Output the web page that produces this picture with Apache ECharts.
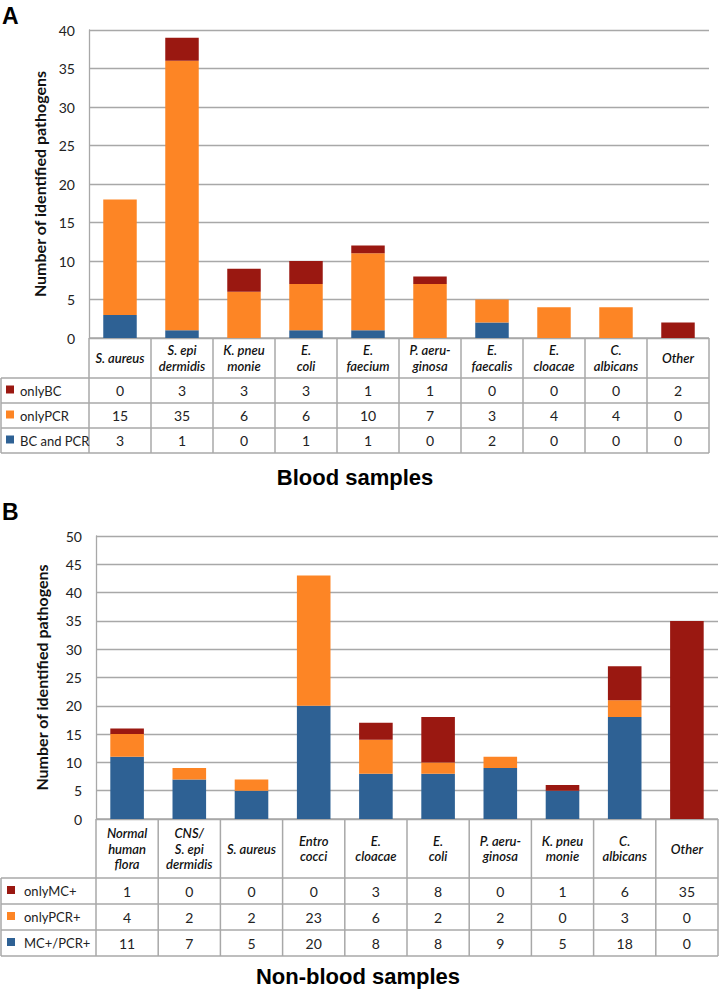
<!DOCTYPE html>
<html>
<head>
<meta charset="utf-8">
<script src="https://cdn.jsdelivr.net/npm/echarts@6/dist/echarts.min.js"></script>
<style>
html,body{margin:0;padding:0;background:#fff;}
#chart{width:720px;height:989px;}
</style>
</head>
<body>
<div id="chart"></div>
<script>
// ---------- Panel A data (Blood samples) ----------
const categoriesA = ["S. aureus", "S. epi\ndermidis", "K. pneu\nmonie", "E.\ncoli", "E.\nfaecium", "P. aeru-\nginosa", "E.\nfaecalis", "E.\ncloacae", "C.\nalbicans", "Other"];
const onlyBC   = [0, 3, 3, 3, 1, 1, 0, 0, 0, 2];
const onlyPCR  = [15, 35, 6, 6, 10, 7, 3, 4, 4, 0];
const bcAndPCR = [3, 1, 0, 1, 1, 0, 2, 0, 0, 0];
const seriesNamesA = ["onlyBC", "onlyPCR", "BC and PCR"];

// ---------- Panel B data (Non-blood samples) ----------
const categoriesB = ["Normal\nhuman\nflora", "CNS/\nS. epi\ndermidis", "S. aureus", "Entro\ncocci", "E.\ncloacae", "E.\ncoli", "P. aeru-\nginosa", "K. pneu\nmonie", "C.\nalbicans", "Other"];
const onlyMC    = [1, 0, 0, 0, 3, 8, 0, 1, 6, 35];
const onlyPCRB  = [4, 2, 2, 23, 6, 2, 2, 0, 3, 0];
const mcAndPCR  = [11, 7, 5, 20, 8, 8, 9, 5, 18, 0];
const seriesNamesB = ["onlyMC+", "onlyPCR+", "MC+/PCR+"];

const yTicksA = {min: 0, max: 40, interval: 5};
const yTicksB = {min: 0, max: 50, interval: 5};

const panelTitles = ["Blood samples", "Non-blood samples"];
const panelLetters = ["A", "B"];
const yAxisTitle = "Number of identified pathogens";

// ---------- styles ----------
const RED = "#9a1811", ORANGE = "#fd8525", BLUE = "#2e6194";
const GRID_COLOR = "#a8a8a8";
const FONT = "Lato, 'Open Sans', sans-serif";

const layoutA = {left: 89, right: 709, top: 30, bottom: 338, headerBottom: 378, rowH: 25, markerX: 6, textX: 20, nameGap: 40, titleY: 477};
const layoutB = {left: 96, right: 718, top: 536, bottom: 819, headerBottom: 878, rowH: 26, markerX: 7, textX: 24, nameGap: 47, titleY: 976};

const chart = echarts.init(document.getElementById('chart'), null, {renderer: 'svg'});

function makeGrid(L) {
  return {left: L.left, top: L.top, width: L.right - L.left, height: L.bottom - L.top, containLabel: false};
}
function makeX(idx, cats) {
  return {type: 'category', gridIndex: idx, data: cats,
    axisLine: {show: false}, axisTick: {show: false}, axisLabel: {show: false}, splitLine: {show: false}};
}
function makeY(idx, ticks, L) {
  return {type: 'value', gridIndex: idx, min: ticks.min, max: ticks.max, interval: ticks.interval,
    name: yAxisTitle, nameLocation: 'middle', nameGap: L.nameGap, nameRotate: 90,
    nameTextStyle: {fontFamily: FONT, fontWeight: 'bold', fontSize: 16, color: '#111'},
    axisLine: {show: true, lineStyle: {color: GRID_COLOR, width: 1.3}},
    axisTick: {show: false},
    axisLabel: {fontFamily: FONT, fontSize: 14, color: '#222', margin: 14},
    splitLine: {show: true, lineStyle: {color: GRID_COLOR, width: 1.3}}};
}
function bar(name, data, color, idx, stack) {
  return {type: 'bar', name: name, data: data, stack: stack, xAxisIndex: idx, yAxisIndex: idx,
    barWidth: '54%', itemStyle: {color: color}, emphasis: {disabled: true}, animation: false};
}

// ---------- table (graphic) ----------
function tableGraphics(L, cats, rows) {
  const g = [];
  const n = cats.length;
  const colW = (L.right - L.left) / n;
  const lineStyle = {stroke: GRID_COLOR, lineWidth: 1.5};
  const tableBottom = L.headerBottom + rows.length * L.rowH;
  g.push({type: 'line', shape: {x1: L.left, y1: L.bottom, x2: L.right, y2: L.bottom}, style: lineStyle, silent: true});
  g.push({type: 'line', shape: {x1: 1, y1: L.headerBottom, x2: L.right, y2: L.headerBottom}, style: lineStyle, silent: true});
  for (let r = 1; r <= rows.length; r++) {
    const y = L.headerBottom + r * L.rowH;
    g.push({type: 'line', shape: {x1: 1, y1: y, x2: L.right, y2: y}, style: lineStyle, silent: true});
  }
  g.push({type: 'line', shape: {x1: 1, y1: L.headerBottom, x2: 1, y2: tableBottom}, style: lineStyle, silent: true});
  for (let c = 0; c <= n; c++) {
    const x = L.left + c * colW;
    g.push({type: 'line', shape: {x1: x, y1: L.bottom, x2: x, y2: tableBottom}, style: lineStyle, silent: true});
  }
  const hy = (L.bottom + L.headerBottom) / 2;
  cats.forEach((c, i) => {
    g.push({type: 'text', silent: true, style: {text: c, x: L.left + (i + 0.5) * colW, y: hy,
      align: 'center', verticalAlign: 'middle', fill: '#111',
      font: "italic 600 13px " + FONT, lineHeight: 15.5}});
  });
  rows.forEach((row, r) => {
    const cy = L.headerBottom + (r + 0.5) * L.rowH;
    g.push({type: 'rect', silent: true, shape: {x: L.markerX, y: cy - 5, width: 8, height: 8}, style: {fill: row.color}});
    g.push({type: 'text', silent: true, style: {text: row.name, x: L.textX, y: cy, align: 'left', verticalAlign: 'middle',
      fill: '#222', font: "13px " + FONT}});
    row.values.forEach((v, i) => {
      g.push({type: 'text', silent: true, style: {text: String(v), x: L.left + (i + 0.5) * colW, y: cy,
        align: 'center', verticalAlign: 'middle', fill: '#222', font: "14px " + FONT}});
    });
  });
  return g;
}

const graphics = [].concat(
  tableGraphics(layoutA, categoriesA, [
    {name: seriesNamesA[0], color: RED, values: onlyBC},
    {name: seriesNamesA[1], color: ORANGE, values: onlyPCR},
    {name: seriesNamesA[2], color: BLUE, values: bcAndPCR}
  ]),
  tableGraphics(layoutB, categoriesB, [
    {name: seriesNamesB[0], color: RED, values: onlyMC},
    {name: seriesNamesB[1], color: ORANGE, values: onlyPCRB},
    {name: seriesNamesB[2], color: BLUE, values: mcAndPCR}
  ]),
  [
    {type: 'text', silent: true, style: {text: panelLetters[0], x: 2, y: 16, verticalAlign: 'middle', fill: '#000', font: "bold 23px 'Liberation Sans', Arial, sans-serif"}},
    {type: 'text', silent: true, style: {text: panelLetters[1], x: 2, y: 512, verticalAlign: 'middle', fill: '#000', font: "bold 23px 'Liberation Sans', Arial, sans-serif"}},
    {type: 'text', silent: true, style: {text: panelTitles[0], x: 355, y: layoutA.titleY, align: 'center', verticalAlign: 'middle', fill: '#000', font: "bold 22px 'Liberation Sans', Arial, sans-serif"}},
    {type: 'text', silent: true, style: {text: panelTitles[1], x: 358, y: layoutB.titleY, align: 'center', verticalAlign: 'middle', fill: '#000', font: "bold 22px 'Liberation Sans', Arial, sans-serif"}}
  ]
);

chart.setOption({
  animation: false,
  grid: [makeGrid(layoutA), makeGrid(layoutB)],
  xAxis: [makeX(0, categoriesA), makeX(1, categoriesB)],
  yAxis: [makeY(0, yTicksA, layoutA), makeY(1, yTicksB, layoutB)],
  series: [
    bar(seriesNamesA[2], bcAndPCR, BLUE, 0, 'a'),
    bar(seriesNamesA[1], onlyPCR, ORANGE, 0, 'a'),
    bar(seriesNamesA[0], onlyBC, RED, 0, 'a'),
    bar(seriesNamesB[2], mcAndPCR, BLUE, 1, 'b'),
    bar(seriesNamesB[1], onlyPCRB, ORANGE, 1, 'b'),
    bar(seriesNamesB[0], onlyMC, RED, 1, 'b')
  ],
  graphic: graphics
});
</script>
</body>
</html>
